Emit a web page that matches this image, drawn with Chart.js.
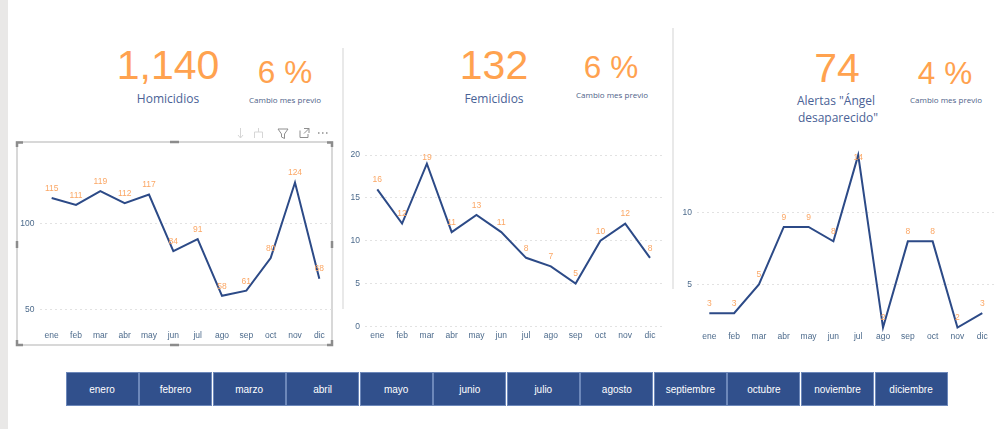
<!DOCTYPE html>
<html lang="es">
<head>
<meta charset="utf-8">
<title>Homicidios, femicidios y alertas</title>
<script src="https://cdn.jsdelivr.net/npm/chart.js@4"></script>
<style>
    html, body { margin: 0; padding: 0; background: #fff; }
    #page { position: relative; width: 998px; height: 429px; overflow: hidden; background: #fff; }
    #page > * { position: absolute; }
    #strip { left: 0; top: 0; width: 8px; height: 429px; background: #e9e8e7; }
    .sep { width: 2px; background: #e9e9e9; }
    .kpi { font-family: "Liberation Sans", Arial, sans-serif; color: #ffa24f; white-space: nowrap; transform: translateX(-50%); line-height: 1; }
    .name { font-family: "Open Sans", sans-serif; font-size: 12px; color: #4a6296; white-space: nowrap; transform: translateX(-50%); line-height: 1; }
    .note { font-family: "Open Sans", sans-serif; font-size: 8px; color: #4d5f88; white-space: nowrap; transform: translateX(-50%); line-height: 1; }
    #frame { left: 16px; top: 141px; width: 313px; height: 201px; border: 2px solid #d8d8d8; }
    .slicer { top: 372px; width: 71px; height: 32px; background: #31508c; border: 1px solid #6d88ba;
        color: #fff; font: 10px/34px "Liberation Sans", Arial, sans-serif; text-align: center; }
</style>
</head>
<body>
<div id="page">
    <div id="strip"></div>
    <div class="sep" style="left:342px;top:48px;height:261px"></div>
    <div class="sep" style="left:672px;top:28px;height:261px"></div>

    <div class="kpi" style="left:168px;top:45px;font-size:41px">1,140</div>
    <div class="kpi" style="left:285px;top:57px;font-size:31.5px">6 %</div>
    <div class="name" style="left:168px;top:93px">Homicidios</div>
    <div class="note" style="left:285px;top:96px">Cambio mes previo</div>

    <div class="kpi" style="left:494px;top:45px;font-size:41px">132</div>
    <div class="kpi" style="left:611px;top:52px;font-size:31.5px">6 %</div>
    <div class="name" style="left:494px;top:93px">Femicidios</div>
    <div class="note" style="left:612px;top:91px">Cambio mes previo</div>

    <div class="kpi" style="left:837px;top:48px;font-size:41px">74</div>
    <div class="kpi" style="left:945px;top:58px;font-size:31.5px">4 %</div>
    <div class="name" style="left:836px;top:95px">Alertas "Ángel</div>
    <div class="name" style="left:838px;top:112px">desaparecido"</div>
    <div class="note" style="left:946px;top:96px">Cambio mes previo</div>

    <div id="frame"></div>
    <svg id="corners" style="left:0;top:0" width="340" height="350" fill="none" stroke="#8c8c8c" stroke-width="2.5">
        <path d="M17 147V142.5H23M327 142.5H332V147M17 340V345H23M327 345H332V340"/>
        <path d="M170 142H179M170 345H179M17 241V248M332 241V248"/>
    </svg>
    <svg id="icons" style="left:232px;top:125px" width="100" height="16" fill="none" stroke="#8f8f8f">
        <path d="M8.5 3V13M6 10L8.5 13L11 10" stroke="#d6d6d6"/>
        <path d="M26.5 3V7M22.5 13V7H30.5V13" stroke="#d6d6d6"/>
        <path d="M46 4H56L52.5 9V13.5L49.5 12V9Z"/>
        <path d="M68 5.5V12.5H76V9M72 3.5H77V8M77 3.5L72 8.5"/>
        <path d="M86 8H87.5M90 8H91.5M94 8H95.5" stroke-width="1.3"/>
    </svg>

    <canvas id="homicidiosChart" width="325" height="200" style="left:10px;top:145px"></canvas>
    <canvas id="femicidiosChart" width="325" height="200" style="left:340px;top:145px"></canvas>
    <canvas id="alertasChart" width="333" height="200" style="left:665px;top:145px"></canvas>
</div>

<script>
const months = ['ene', 'feb', 'mar', 'abr', 'may', 'jun', 'jul', 'ago', 'sep', 'oct', 'nov', 'dic'];
const slicerMonths = ['enero', 'febrero', 'marzo', 'abril', 'mayo', 'junio', 'julio', 'agosto', 'septiembre', 'octubre', 'noviembre', 'diciembre'];

const homicidios = [115, 111, 119, 112, 117, 84, 91, 58, 61, 80, 124, 68];
const femicidios = [16, 12, 19, 11, 13, 11, 8, 7, 5, 10, 12, 8];
const alertas = [3, 3, 5, 9, 9, 8, 14, 2, 8, 8, 2, 3];

const homicidiosTicks = [50, 100];
const femicidiosTicks = [0, 5, 10, 15, 20];
const alertasTicks = [5, 10];

// Power BI style data labels, pushed down when they hit the top of the plot
const pointLabels = {
    id: 'pointLabels',
    afterDatasetsDraw(chart) {
        const ctx = chart.ctx;
        const values = chart.data.datasets[0].data;
        ctx.save();
        ctx.font = '8.5px "Liberation Sans", Arial, sans-serif';
        ctx.fillStyle = '#fba765';
        ctx.textAlign = 'center';
        ctx.textBaseline = 'middle';
        chart.getDatasetMeta(0).data.forEach((point, i) => {
            const y = Math.max(point.y - 9.5, chart.chartArea.top + 3);
            ctx.fillText(values[i], point.x, y);
        });
        ctx.restore();
    }
};

function lineChart(id, values, ticks, min, max, box) {
    return new Chart(document.getElementById(id), {
        type: 'line',
        data: {
            labels: months,
            datasets: [{
                data: values,
                borderColor: '#2c4a87',
                borderWidth: 2,
                tension: 0,
                pointRadius: 0,
                clip: false
            }]
        },
        plugins: [pointLabels],
        options: {
            responsive: false,
            animation: false,
            events: [],
            layout: { padding: { top: box.top, right: box.right, left: 0, bottom: 0 } },
            plugins: { legend: { display: false }, tooltip: { enabled: false } },
            scales: {
                x: {
                    offset: true,
                    grid: { display: false, drawTicks: false },
                    border: { display: false },
                    afterFit: axis => { axis.height = box.xHeight; },
                    ticks: {
                        color: '#4d6b8c',
                        padding: 4,
                        maxRotation: 0,
                        autoSkip: false,
                        font: { family: '"Liberation Sans", Arial, sans-serif', size: 8.5 }
                    }
                },
                y: {
                    min: min,
                    max: max,
                    afterBuildTicks: axis => { axis.ticks = ticks.map(v => ({ value: v })); },
                    afterFit: axis => { axis.width = box.yWidth; },
                    border: { display: false, dash: [2, 3] },
                    grid: { color: '#e2e2e2', lineWidth: 1, drawTicks: false },
                    ticks: {
                        color: '#4d6b8c',
                        padding: 5,
                        font: { family: '"Liberation Sans", Arial, sans-serif', size: 8.5 }
                    }
                }
            }
        }
    });
}

lineChart('homicidiosChart', homicidios, homicidiosTicks, 40, 140, { top: 7.7, right: 3.5, yWidth: 29.5, xHeight: 18.3 });
lineChart('femicidiosChart', femicidios, femicidiosTicks, 0, 20, { top: 7.3, right: 2.6, yWidth: 24.9, xHeight: 18.7 });
lineChart('alertasChart', alertas, alertasTicks, 2, 14, { top: 8, right: 3.3, yWidth: 31.9, xHeight: 17.4 });

// Month slicer under the charts
const page = document.getElementById('page');
slicerMonths.forEach((name, i) => {
    const btn = document.createElement('div');
    btn.className = 'slicer';
    btn.style.left = (65.5 + i * 73.55) + 'px';
    btn.textContent = name;
    page.appendChild(btn);
});
</script>
</body>
</html>
